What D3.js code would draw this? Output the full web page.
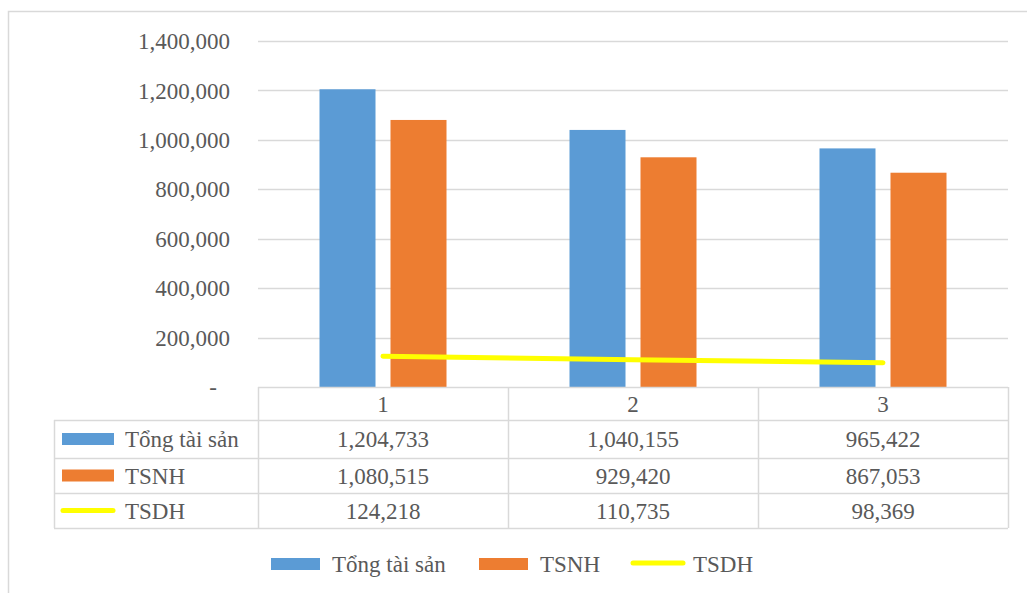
<!DOCTYPE html>
<html>
<head>
<meta charset="utf-8">
<script src="https://cdn.jsdelivr.net/npm/d3@7"></script>
<style>
  html, body { margin: 0; padding: 0; background: #fff; }
  svg { display: block; font-family: "Liberation Serif", "Times New Roman", serif; }
</style>
</head>
<body>
<svg id="chart" width="1027" height="593"></svg>
<script>
// Periods shown along the category axis
const categories = ["1", "2", "3"];
// Series names
const seriesNames = ["Tổng tài sản", "TSNH", "TSDH"];
// Series values per period
const tongTaiSan = [1204733, 1040155, 965422];
const tsnh = [1080515, 929420, 867053];
const tsdh = [124218, 110735, 98369];
// Value-axis ticks
const yTicks = [0, 200000, 400000, 600000, 800000, 1000000, 1200000, 1400000];

const colors = { "Tổng tài sản": "#5B9BD5", "TSNH": "#ED7D31", "TSDH": "#FFFF00" };
const textColor = "#595959";
const gridColor = "#D9D9D9";
const fmt = d3.format(",");

const svg = d3.select("#chart");

// Chart frame
svg.append("rect")
  .attr("x", 8.5).attr("y", 11.5)
  .attr("width", 1040).attr("height", 620)
  .attr("fill", "#fff").attr("stroke", gridColor).attr("stroke-width", 1.5);

const plot = { left: 258, right: 1008, top: 41, bottom: 387 };

const x0 = d3.scaleBand().domain(categories).range([plot.left, plot.right]);
const barSeries = ["Tổng tài sản", "TSNH"];
const x1 = d3.scaleBand().domain(barSeries).range([0, x0.bandwidth()])
  .paddingInner(15 / 71).paddingOuter(61.5 / 71);
const y = d3.scaleLinear().domain([0, 1400000]).range([plot.bottom, plot.top]);

// Horizontal gridlines
svg.append("g")
  .selectAll("line")
  .data(yTicks.filter(d => d > 0))
  .join("line")
  .attr("x1", plot.left).attr("x2", plot.right)
  .attr("y1", d => Math.round(y(d)) + 0.5).attr("y2", d => Math.round(y(d)) + 0.5)
  .attr("stroke", gridColor).attr("stroke-width", 1.5);

// Value-axis labels (zero shown as an accounting dash)
const yAxis = d3.axisLeft(y).tickValues(yTicks)
  .tickFormat(d => d === 0 ? "-" : fmt(d)).tickSize(0).tickPadding(28);
const gy = svg.append("g").attr("transform", `translate(${plot.left},0)`).call(yAxis);
gy.select(".domain").remove();
gy.attr("font-family", null);
gy.selectAll("text")
  .attr("fill", textColor).style("font-size", "23px")
  .attr("dx", d => d === 0 ? -13 : 0)
  .attr("dy", "0.33em");

// Bars
const barData = categories.map((c, i) => ({
  cat: c,
  values: [
    { key: "Tổng tài sản", value: tongTaiSan[i] },
    { key: "TSNH", value: tsnh[i] }
  ]
}));
svg.append("g")
  .selectAll("g")
  .data(barData)
  .join("g")
  .attr("transform", d => `translate(${x0(d.cat)},0)`)
  .selectAll("rect")
  .data(d => d.values)
  .join("rect")
  .attr("x", d => x1(d.key))
  .attr("width", x1.bandwidth())
  .attr("y", d => y(d.value))
  .attr("height", d => y(0) - y(d.value))
  .attr("fill", d => colors[d.key]);

// TSDH line through category centres
const line = d3.line()
  .x((d, i) => x0(categories[i]) + x0.bandwidth() / 2)
  .y(d => y(d));
svg.append("path")
  .datum(tsdh)
  .attr("d", line)
  .attr("fill", "none")
  .attr("stroke", colors["TSDH"])
  .attr("stroke-width", 5)
  .attr("stroke-linecap", "round");

// Data table under the plot
const tableLeft = 54;
const rowEdges = [387, 420, 458, 493, 528];
const table = svg.append("g");

// Horizontal rules
rowEdges.forEach((yy, i) => {
  table.append("line")
    .attr("x1", i === 0 ? plot.left : tableLeft).attr("x2", plot.right)
    .attr("y1", yy + 0.5).attr("y2", yy + 0.5)
    .attr("stroke", gridColor).attr("stroke-width", 1.5);
});
// Vertical rules
table.append("line")
  .attr("x1", tableLeft + 0.5).attr("x2", tableLeft + 0.5)
  .attr("y1", rowEdges[1]).attr("y2", rowEdges[4])
  .attr("stroke", gridColor).attr("stroke-width", 1.5);
categories.concat([null]).forEach(c => {
  const xx = c === null ? plot.right : x0(c);
  table.append("line")
    .attr("x1", xx + 0.5).attr("x2", xx + 0.5)
    .attr("y1", rowEdges[0]).attr("y2", rowEdges[4])
    .attr("stroke", gridColor).attr("stroke-width", 1.5);
});

// Category header row
table.selectAll("text.cat")
  .data(categories)
  .join("text")
  .attr("class", "cat")
  .attr("x", d => x0(d) + x0.bandwidth() / 2)
  .attr("y", (rowEdges[0] + rowEdges[1]) / 2)
  .attr("dy", "0.35em")
  .attr("text-anchor", "middle")
  .attr("fill", textColor).style("font-size", "23px")
  .text(d => d);

// Series rows
const rows = [
  { key: "Tổng tài sản", values: tongTaiSan, kind: "bar" },
  { key: "TSNH", values: tsnh, kind: "bar" },
  { key: "TSDH", values: tsdh, kind: "line" }
];
rows.forEach((r, i) => {
  const cy = (rowEdges[i + 1] + rowEdges[i + 2]) / 2;
  if (r.kind === "bar") {
    table.append("rect")
      .attr("x", 62).attr("y", cy - 6).attr("width", 52).attr("height", 12)
      .attr("fill", colors[r.key]);
  } else {
    table.append("line")
      .attr("x1", 63).attr("x2", 113).attr("y1", cy).attr("y2", cy)
      .attr("stroke", colors[r.key]).attr("stroke-width", 5)
      .attr("stroke-linecap", "round");
  }
  table.append("text")
    .attr("x", 125).attr("y", cy).attr("dy", "0.35em")
    .attr("fill", textColor).style("font-size", "23px")
    .text(r.key);
  table.selectAll(null)
    .data(r.values)
    .join("text")
    .attr("x", (d, j) => x0(categories[j]) + x0.bandwidth() / 2)
    .attr("y", cy).attr("dy", "0.35em")
    .attr("text-anchor", "middle")
    .attr("fill", textColor).style("font-size", "23px")
    .text(d => fmt(d));
});

// Legend
const legendY = 564;
const legendItems = [
  { key: seriesNames[0], x: 271, kind: "bar" },
  { key: seriesNames[1], x: 479, kind: "bar" },
  { key: seriesNames[2], x: 632, kind: "line" }
];
const legend = svg.append("g");
legendItems.forEach(it => {
  if (it.kind === "bar") {
    legend.append("rect")
      .attr("x", it.x).attr("y", legendY - 6).attr("width", 49).attr("height", 12)
      .attr("fill", colors[it.key]);
  } else {
    legend.append("line")
      .attr("x1", it.x + 1).attr("x2", it.x + 51).attr("y1", legendY - 1).attr("y2", legendY - 1)
      .attr("stroke", colors[it.key]).attr("stroke-width", 5)
      .attr("stroke-linecap", "round");
  }
  legend.append("text")
    .attr("x", it.x + 61).attr("y", legendY).attr("dy", "0.35em")
    .attr("fill", textColor).style("font-size", "23px")
    .text(it.key);
});
</script>
</body>
</html>
